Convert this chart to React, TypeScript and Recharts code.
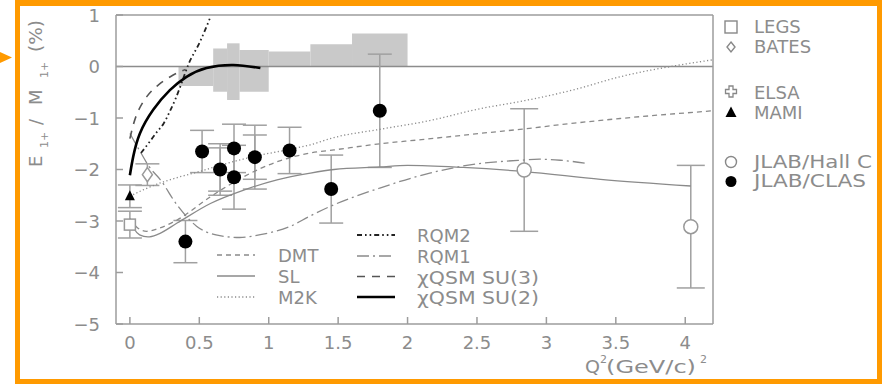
import React from 'react';
import {
  ComposedChart,
  Line,
  Scatter,
  XAxis,
  YAxis,
  ErrorBar,
  ReferenceArea,
  ReferenceLine,
} from 'recharts';

// ---------------- axes ----------------
const xTicks = [0, 0.5, 1, 1.5, 2, 2.5, 3, 3.5, 4];
const yTicks = [-5, -4, -3, -2, -1, 0, 1];
const xDomain = [-0.1, 4.2];
const yDomain = [-5, 1];

// ---------------- experimental data ----------------
const legsQ2 = [0];
const legsRatio = [-3.07];
const legsErr = [0.26];

const batesQ2 = [0.126];
const batesRatio = [-2.1];
const batesErr = [0.21];

const mamiQ2 = [0];
const mamiRatio = [-2.52];
const mamiErr = [0.22];

const hallcQ2 = [2.84, 4.04];
const hallcRatio = [-2.01, -3.11];
const hallcErr = [1.19, 1.19];

const clasQ2 = [0.4, 0.52, 0.65, 0.75, 0.75, 0.9, 1.15, 1.45, 1.8];
const clasRatio = [-3.4, -1.65, -2.0, -1.59, -2.15, -1.76, -1.63, -2.38, -0.86];
const clasErrTot = [0.41, 0.41, 0.5, 0.47, 0.62, 0.62, 0.45, 0.66, 1.1];
const clasErrStat = [0, 0, 0.42, 0, 0, 0.43, 0, 0, 0];

// ---------------- shaded band ----------------
const bandQ2Low = [0.35, 0.6, 0.7, 0.79, 1.0, 1.3, 1.6];
const bandQ2High = [0.6, 0.7, 0.79, 1.0, 1.3, 1.6, 2.0];
const bandMin = [-0.38, -0.49, -0.65, -0.49, 0, 0, 0];
const bandMax = [0.01, 0.35, 0.45, 0.32, 0.29, 0.43, 0.64];

// ---------------- theory curves ----------------
const dmtQ2 = [0, 0.05, 0.12, 0.2, 0.34, 0.58, 0.82, 1.06, 1.3, 1.47, 1.8, 2.1, 2.52, 2.81, 3.2, 3.53, 4.2];
const dmtRatio = [-2.95, -3.12, -3.2, -3.15, -2.98, -2.53, -2.14, -1.85, -1.68, -1.62, -1.5, -1.42, -1.3, -1.22, -1.1, -1.01, -0.86];

const slQ2 = [0, 0.03, 0.07, 0.13, 0.2, 0.34, 0.58, 0.82, 1.06, 1.3, 1.47, 1.8, 2.0, 2.4, 2.84, 3.39, 4.04];
const slRatio = [-2.98, -3.15, -3.27, -3.31, -3.26, -3.04, -2.66, -2.4, -2.2, -2.07, -2.0, -1.95, -1.92, -1.96, -2.04, -2.19, -2.32];

const m2kQ2 = [0, 0.1, 0.22, 0.35, 0.5, 0.7, 0.94, 1.15, 1.3, 1.47, 1.8, 2.16, 2.52, 2.81, 3.2, 3.53, 3.96, 4.2];
const m2kRatio = [-2.52, -2.39, -2.26, -2.15, -2.04, -1.88, -1.72, -1.61, -1.52, -1.38, -1.22, -1.05, -0.82, -0.68, -0.45, -0.2, 0.03, 0.13];

const rqm2Q2 = [0.08, 0.14, 0.195, 0.24, 0.29, 0.33, 0.37, 0.42, 0.505, 0.58];
const rqm2Ratio = [-1.68, -1.47, -1.27, -1.12, -0.86, -0.62, -0.34, 0.03, 0.48, 0.96];

const rqm1Q2 = [0, 0.08, 0.14, 0.22, 0.34, 0.48, 0.62, 0.79, 0.95, 1.15, 1.3, 1.44, 1.8, 2.16, 2.45, 2.81, 2.95, 3.1, 3.29];
const rqm1Ratio = [-1.3, -1.68, -1.95, -2.2, -2.69, -3.1, -3.27, -3.32, -3.26, -3.11, -2.9, -2.72, -2.36, -2.07, -1.91, -1.82, -1.8, -1.82, -1.88];

const su3Q2 = [0, 0.048, 0.12, 0.204, 0.312, 0.4];
const su3Ratio = [-1.4, -0.94, -0.59, -0.36, -0.165, -0.06];

const su2Q2 = [0, 0.024, 0.072, 0.168, 0.288, 0.408, 0.552, 0.745, 0.94];
const su2Ratio = [-2.11, -1.75, -1.3, -0.84, -0.46, -0.2, -0.03, 0.03, -0.03];

// ---------------- labels ----------------
const expLabels = ['LEGS', 'BATES', 'ELSA', 'MAMI', 'JLAB/Hall C', 'JLAB/CLAS'];
const theoryLabelsLeft = ['DMT', 'SL', 'M2K'];
const theoryLabelsRight = ['RQM2', 'RQM1', 'χQSM SU(3)', 'χQSM SU(2)'];

// ---------------- helpers & styles ----------------
const pts = (xs: number[], ys: number[]) => xs.map((q2, i) => ({ q2, v: ys[i] }));
const ptsErr = (xs: number[], ys: number[], es: number[], es2?: number[]) =>
  xs.map((q2, i) => ({ q2, v: ys[i], err: es[i], err2: es2 ? es2[i] : 0 }));

const FONT = '"DejaVu Sans", Verdana, sans-serif';
const TXT = '#8c8c8c';
const AXIS = '#9c9c9c';
const ERR = '#a0a0a0';
const ORANGE = '#FF9A00';

const lineStyles: Record<string, any> = {
  DMT: { stroke: '#8a8a8a', strokeWidth: 1.3, strokeDasharray: '5 4' },
  SL: { stroke: '#8a8a8a', strokeWidth: 1.3 },
  M2K: { stroke: '#8a8a8a', strokeWidth: 1.3, strokeDasharray: '1.2 2.4' },
  RQM2: { stroke: '#222', strokeWidth: 1.8, strokeDasharray: '5 3 1.6 3 1.6 3' },
  RQM1: { stroke: '#8a8a8a', strokeWidth: 1.3, strokeDasharray: '12 4 2 4' },
  'χQSM SU(3)': { stroke: '#555', strokeWidth: 1.6, strokeDasharray: '8 7' },
  'χQSM SU(2)': { stroke: '#000', strokeWidth: 2.6 },
};
const curveTypes: Record<string, any> = {
  'χQSM SU(2)': 'natural',
  'χQSM SU(3)': 'natural',
};

const fmtX = (v: number) => String(v);
const fmtY = (v: number) => (v < 0 ? '\u2212' + Math.abs(v) : String(v));

const XTick = (p: any) => {
  const { x, y, payload } = p;
  return (
    <g>
      <line x1={x} y1={y} x2={x} y2={y - 7} stroke={AXIS} strokeWidth={1.5} />
      <text x={x} y={y + 24.5} textAnchor="middle" fontFamily={FONT} fontSize={18} fill={TXT}>
        {fmtX(payload.value)}
      </text>
    </g>
  );
};

const YTick = (p: any) => {
  const { x, y, payload } = p;
  return (
    <g>
      <line x1={x} y1={y} x2={x + 7} y2={y} stroke={AXIS} strokeWidth={1.5} />
      <text x={x - 16} y={y + 6.5} textAnchor="end" fontFamily={FONT} fontSize={18} fill={TXT}>
        {fmtY(payload.value)}
      </text>
    </g>
  );
};

const FilledCircle = (p: any) => <circle cx={p.cx} cy={p.cy} r={7} fill="#000" />;
const OpenCircle = (p: any) => (
  <circle cx={p.cx} cy={p.cy} r={7} fill="#fff" stroke="#999" strokeWidth={1.5} />
);
const OpenSquare = (p: any) => (
  <rect x={p.cx - 5.5} y={p.cy - 5.5} width={11} height={11} fill="#fff" stroke="#999" strokeWidth={1.5} />
);
const OpenDiamond = (p: any) => (
  <polygon
    points={`${p.cx},${p.cy - 7} ${p.cx + 5},${p.cy} ${p.cx},${p.cy + 7} ${p.cx - 5},${p.cy}`}
    fill="#fff"
    stroke="#999"
    strokeWidth={1.5}
  />
);
const FilledTriangle = (p: any) => (
  <polygon points={`${p.cx},${p.cy - 6} ${p.cx + 5},${p.cy + 4} ${p.cx - 5},${p.cy + 4}`} fill="#000" />
);

const txt = { fontFamily: FONT, fontSize: 18, fill: TXT } as const;
const stretch = (w: number) => ({ textLength: w, lengthAdjust: 'spacingAndGlyphs' });

function Overlay() {
  const expY = [33, 53, 99, 119, 168, 187];
  const expMarkY = [27, 47, 91.5, 112, 162, 181.5];
  const expLen: Record<string, number> = { 'JLAB/Hall C': 118, 'JLAB/CLAS': 112 };
  const mx = 731;
  const markers = [
    <rect key="m0" x={mx - 6} y={expMarkY[0] - 6} width={12} height={12} fill="none" stroke="#888" strokeWidth={1.4} />,
    <polygon key="m1" points={`${mx},${expMarkY[1] - 5} ${mx + 4},${expMarkY[1]} ${mx},${expMarkY[1] + 5} ${mx - 4},${expMarkY[1]}`} fill="none" stroke="#888" strokeWidth={1.4} />,
    <path key="m2" d={`M${mx - 2},${expMarkY[2] - 5.5} h4 v3.5 h3.5 v4 h-3.5 v3.5 h-4 v-3.5 h-3.5 v-4 h3.5 z`} fill="none" stroke="#888" strokeWidth={1.3} />,
    <polygon key="m3" points={`${mx},${expMarkY[3] - 5.5} ${mx + 5.5},${expMarkY[3] + 5} ${mx - 5.5},${expMarkY[3] + 5}`} fill="#000" />,
    <circle key="m4" cx={mx} cy={expMarkY[4]} r={5.5} fill="none" stroke="#888" strokeWidth={1.4} />,
    <circle key="m5" cx={mx} cy={expMarkY[5]} r={5.5} fill="#000" />,
  ];
  const leftRows = [255, 276, 297];
  const rightRows = [235, 256, 276.5, 297];
  return (
    <svg width={882} height={384} style={{ position: 'absolute', left: 0, top: 0, pointerEvents: 'none' }}>
      {/* arrow */}
      <polygon points="0,52 12,57.5 0,63" fill={ORANGE} />
      {/* y title */}
      <g transform="translate(42,167) rotate(-90)" fontFamily={FONT} fill={TXT}>
        <text x={0} y={0} fontSize={18}>E</text>
        <text x={19} y={6} fontSize={11}>1+</text>
        <text x={42} y={0} fontSize={18}>/</text>
        <text x={62} y={0} fontSize={18}>M</text>
        <text x={89} y={6} fontSize={11}>1+</text>
        <text x={115} y={0} fontSize={18} {...stretch(32)}>(%)</text>
      </g>
      {/* x title */}
      <g fontFamily={FONT} fill={TXT}>
        <text x={585} y={373} fontSize={18} {...stretch(15)}>Q</text>
        <text x={600} y={363} fontSize={11}>2</text>
        <text x={606} y={373} fontSize={18} {...stretch(90)}>(GeV/c)</text>
        <text x={700} y={363} fontSize={11}>2</text>
      </g>
      {/* experimental legend */}
      {markers}
      {expLabels.map((l, i) => (
        <text key={l} x={754} y={expY[i]} {...txt} {...(expLen[l] ? stretch(expLen[l]) : {})}>
          {l}
        </text>
      ))}
      {/* theory legend */}
      {theoryLabelsLeft.map((l, i) => (
        <g key={l}>
          <line x1={217} x2={255} y1={leftRows[i]} y2={leftRows[i]} {...lineStyles[l]} />
          <text x={278} y={leftRows[i] + 7} {...txt}>{l}</text>
        </g>
      ))}
      {theoryLabelsRight.map((l, i) => (
        <g key={l}>
          <line x1={357} x2={395} y1={rightRows[i]} y2={rightRows[i]} {...lineStyles[l]} />
          <text x={417} y={rightRows[i] + 7} {...txt} {...(l.startsWith('χ') ? stretch(122) : {})}>
            {l}
          </text>
        </g>
      ))}
    </svg>
  );
}

const theory: [string, number[], number[]][] = [
  ['DMT', dmtQ2, dmtRatio],
  ['SL', slQ2, slRatio],
  ['M2K', m2kQ2, m2kRatio],
  ['RQM1', rqm1Q2, rqm1Ratio],
  ['RQM2', rqm2Q2, rqm2Ratio],
  ['χQSM SU(3)', su3Q2, su3Ratio],
  ['χQSM SU(2)', su2Q2, su2Ratio],
];

export default function App() {
  const errProps = { direction: 'y' as const, stroke: ERR, strokeWidth: 1.5 };
  return (
    <div style={{ position: 'absolute', left: 0, top: 0, width: 882, height: 384, background: '#fff', overflow: 'hidden' }}>
      <ComposedChart width={882} height={384} margin={{ top: 15, right: 169, bottom: 0, left: 0 }}>
        <XAxis
          type="number"
          dataKey="q2"
          domain={xDomain}
          ticks={xTicks}
          interval={0}
          allowDataOverflow
          height={60}
          tickSize={0}
          tickMargin={0}
          tickLine={false}
          axisLine={{ stroke: AXIS, strokeWidth: 1.5 }}
          tick={XTick}
        />
        <YAxis
          type="number"
          dataKey="v"
          domain={yDomain}
          ticks={yTicks}
          interval={0}
          allowDataOverflow
          width={116}
          tickSize={0}
          tickMargin={0}
          tickLine={false}
          axisLine={{ stroke: AXIS, strokeWidth: 1.5 }}
          tick={YTick}
        />
        {bandQ2Low.map((lo, i) => (
          <ReferenceArea
            key={'band' + i}
            x1={lo}
            x2={bandQ2High[i]}
            y1={bandMin[i]}
            y2={bandMax[i]}
            fill="#c9c9c9"
            fillOpacity={1}
            stroke="none"
          />
        ))}
        <ReferenceLine y={0} stroke="#8c8c8c" strokeWidth={1.3} />
        <ReferenceLine y={yDomain[1]} stroke={AXIS} strokeWidth={1.5} />
        <ReferenceLine x={xDomain[1]} stroke={AXIS} strokeWidth={1.5} />

        <Scatter data={ptsErr(legsQ2, legsRatio, legsErr)} dataKey="v" shape={OpenSquare} isAnimationActive={false}>
          <ErrorBar dataKey="err" width={12} {...errProps} />
        </Scatter>
        <Scatter data={ptsErr(mamiQ2, mamiRatio, mamiErr)} dataKey="v" shape={FilledTriangle} isAnimationActive={false}>
          <ErrorBar dataKey="err" width={12} {...errProps} />
        </Scatter>
        <Scatter data={ptsErr(batesQ2, batesRatio, batesErr)} dataKey="v" shape={OpenDiamond} isAnimationActive={false}>
          <ErrorBar dataKey="err" width={12} {...errProps} />
        </Scatter>
        <Scatter data={ptsErr(hallcQ2, hallcRatio, hallcErr)} dataKey="v" shape={OpenCircle} isAnimationActive={false}>
          <ErrorBar dataKey="err" width={14} {...errProps} />
        </Scatter>
        <Scatter data={ptsErr(clasQ2, clasRatio, clasErrTot, clasErrStat)} dataKey="v" shape={FilledCircle} isAnimationActive={false}>
          <ErrorBar dataKey="err" width={12} {...errProps} />
          <ErrorBar dataKey="err2" width={12} {...errProps} />
        </Scatter>

        {theory.map(([name, xs, ys]) => (
          <Line
            key={name}
            data={pts(xs, ys)}
            dataKey="v"
            type={curveTypes[name] || 'monotone'}
            dot={false}
            activeDot={false}
            isAnimationActive={false}
            {...lineStyles[name]}
          />
        ))}
      </ComposedChart>
      <Overlay />
      <div
        style={{
          position: 'absolute',
          left: 15,
          top: 0,
          width: 867,
          height: 384,
          boxSizing: 'border-box',
          border: `5px solid ${ORANGE}`,
          borderTopWidth: 6,
          pointerEvents: 'none',
        }}
      />
    </div>
  );
}
